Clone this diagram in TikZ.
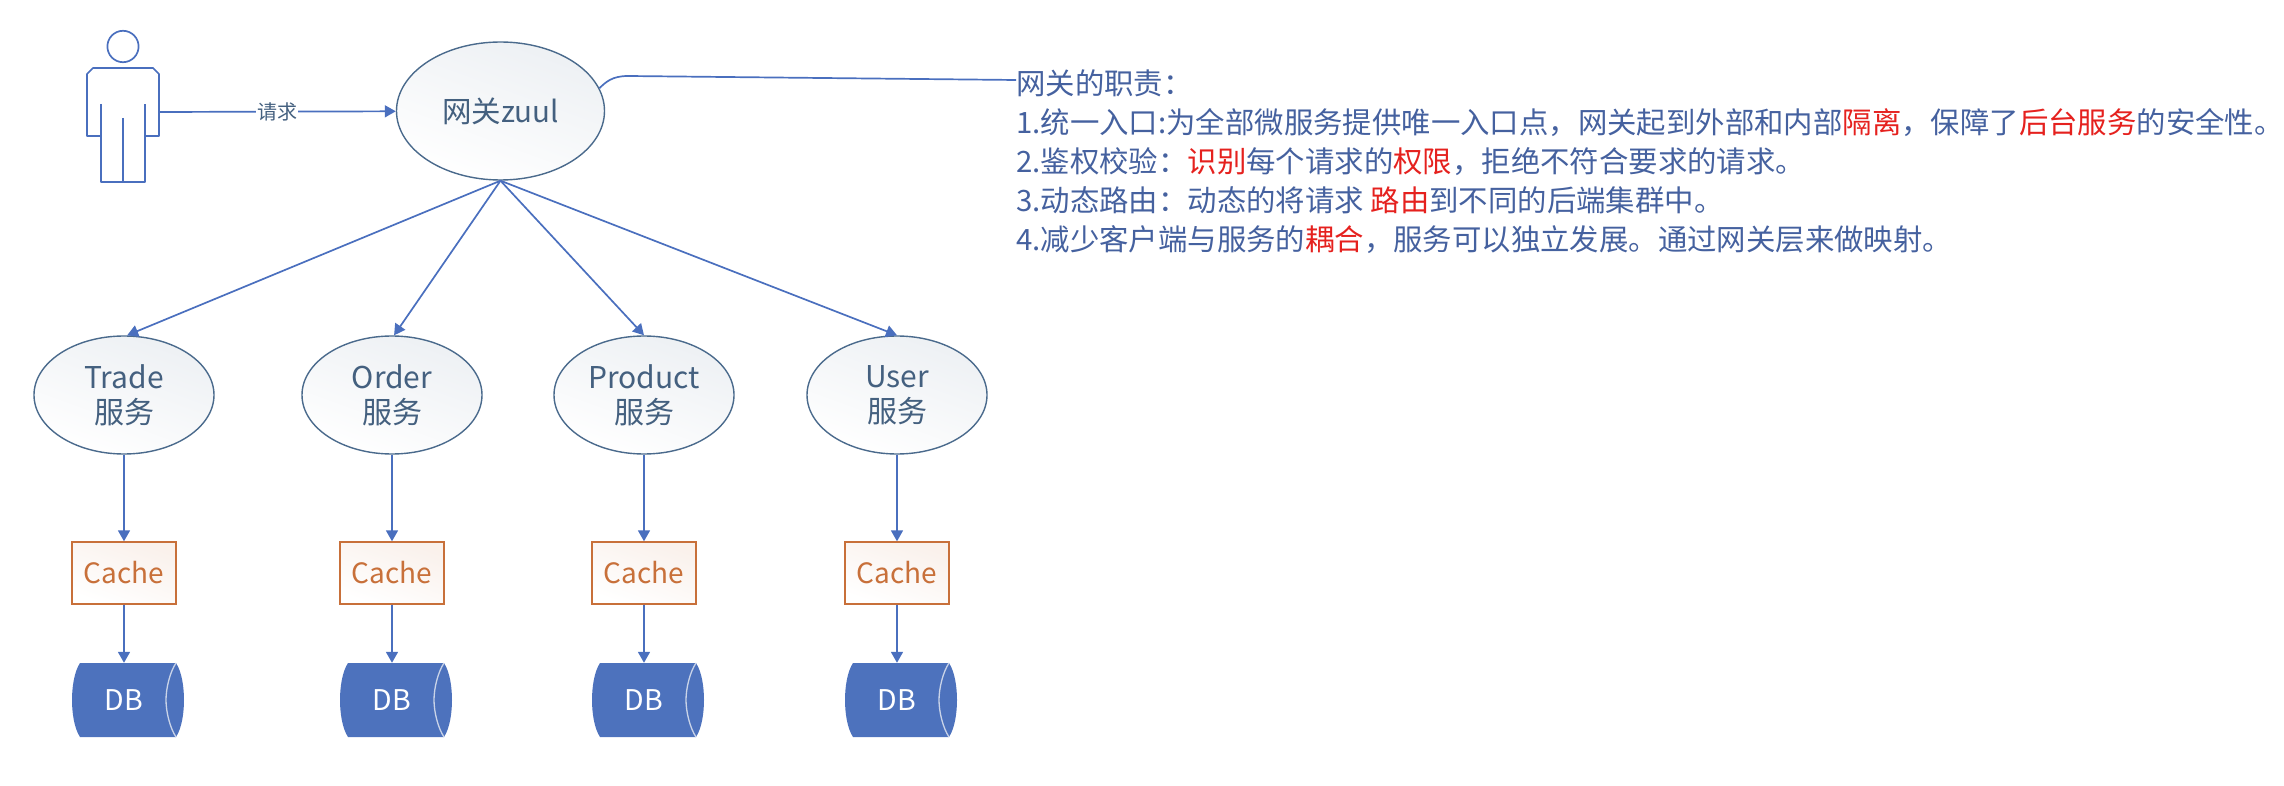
\documentclass[tikz,border=0pt]{standalone}
\usepackage{fontspec}
\setmainfont{Noto Sans CJK SC}
\usetikzlibrary{arrows.meta,shapes.geometric}
\definecolor{lineblue}{HTML}{4A6FBE}
\definecolor{ringblue}{HTML}{4A6A8C}
\definecolor{labelblue}{HTML}{44607F}
\definecolor{ruleblue}{HTML}{45619F}
\definecolor{rulered}{HTML}{E5211E}
\definecolor{cacheor}{HTML}{C8703A}
\definecolor{dbblue}{HTML}{4D72BD}
\definecolor{dbrim}{HTML}{C9D3E8}
\newcommand{\dbbody}[1]{%
  \begin{scope}[shift={(#1,0)}]
    \path[fill=dbblue] (8,663) -- (104,663) .. controls (110,672) and (112,688) .. (112,700)
      .. controls (112,712) and (110,728) .. (104,737) -- (8,737)
      .. controls (2,728) and (0,712) .. (0,700) .. controls (0,688) and (2,672) .. (8,663) -- cycle;
    \draw[dbrim,line width=1.3pt] (104,663) .. controls (98,672) and (94,688) .. (94,700)
      .. controls (94,712) and (98,728) .. (104,737);
  \end{scope}}
\tikzset{
  conn/.style={draw=lineblue,line width=1.7pt},
  arr/.style={conn,-{Triangle[length=11pt,width=12pt]}},
  person/.style={draw=lineblue,line width=1.7pt,line join=round},
  gateway/.style={ellipse,draw=ringblue,line width=1.4pt,inner sep=0pt,
    minimum width=208pt,minimum height=138pt,text=labelblue,
    top color=white!90!ringblue,bottom color=white,shading angle=-20,
    font=\fontsize{29.5}{34}\selectfont},
  service/.style={ellipse,draw=ringblue,line width=1.4pt,inner sep=0pt,
    minimum width=180pt,minimum height=118pt,text=labelblue,align=center,
    top color=white!90!ringblue,bottom color=white,shading angle=-20,
    font=\fontsize{30}{35}\selectfont},
  cachebox/.style={rectangle,draw=cacheor,line width=1.4pt,inner sep=0pt,
    minimum width=104pt,minimum height=62pt,text=cacheor,
    top color=cacheor!10,bottom color=white,shading angle=-20,
    font=\fontsize{28}{34}\selectfont},
  dbnode/.style={rectangle,inner sep=0pt,minimum width=104pt,minimum height=74pt,text=white,
    font=\fontsize{28.5}{30}\selectfont},
  edgelabel/.style={fill=white,inner sep=1pt,text=labelblue,font=\fontsize{20}{24}\selectfont},
  rules/.style={anchor=north west,inner sep=0pt,align=left,text=ruleblue,
    font=\fontsize{29.4}{39}\selectfont},
}
\newcommand{\hot}[1]{\textcolor{rulered}{#1}}
\begin{document}
\begin{tikzpicture}[x=1pt,y=-1pt]
\useasboundingbox (0,0) rectangle (2284,786);
% person
\draw[person] (123,46.5) ellipse [x radius=15.6,y radius=15.7];
\draw[person] (101,136) -- (87,136) -- (87,74) -- (93,68) -- (153,68) -- (159,74) -- (159,136) -- (145,136);
\draw[person] (101,104) -- (101,182) -- (145,182) -- (145,104);
\draw[person] (123,118) -- (123,182);
\coordinate (user) at (159,112);
% gateway
\node[gateway] (gw) at (500.5,111) {网关zuul};
% services
\node[service] (s1) at (124,395) {Trade\\服务};
\node[service] (s2) at (392,395) {Order\\服务};
\node[service] (s3) at (644,395) {Product\\服务};
\node[service] (s4) at (897,395) {User\\服务};
% caches
\node[cachebox] (c1) at (124,573) {Cache};
\node[cachebox] (c2) at (392,573) {Cache};
\node[cachebox] (c3) at (644,573) {Cache};
\node[cachebox] (c4) at (897,573) {Cache};
% dbs
\dbbody{72}\node[dbnode] (d1) at (124,700) {DB};
\dbbody{340}\node[dbnode] (d2) at (392,700) {DB};
\dbbody{592}\node[dbnode] (d3) at (644,700) {DB};
\dbbody{845}\node[dbnode] (d4) at (897,700) {DB};
% rules text
\node[rules] (txt) at (1016,69) {网关的职责：\\
1.统一入口:为全部微服务提供唯一入口点，网关起到外部和内部\hot{隔离}，保障了\hot{后台服务}的安全性。\\
2.鉴权校验：\hot{识别}每个请求的\hot{权限}，拒绝不符合要求的请求。\\
3.动态路由：动态的将请求 \hot{路由}到不同的后端集群中。\\
4.减少客户端与服务的\hot{耦合}，服务可以独立发展。通过网关层来做映射。};
\coordinate (txtin) at (1016,80);
% connectors
\draw[arr] (user) -- node[edgelabel] {请求} (gw);
\draw[conn] (gw.13) .. controls (606,82) and (612,76) .. (628,76) -- (txtin);
\coordinate (gwb) at (gw.south);
\draw[arr] (gwb) -- (s1.87);
\draw[arr] (gwb) -- (s2.88);
\draw[arr] (gwb) -- (s3.90);
\draw[arr] (gwb) -- (s4.90);
\foreach \i in {1,2,3,4}{
  \draw[arr] (s\i.south) -- (c\i.north);
  \draw[arr] (c\i.south) -- (d\i.north);
}
\end{tikzpicture}
\end{document}
